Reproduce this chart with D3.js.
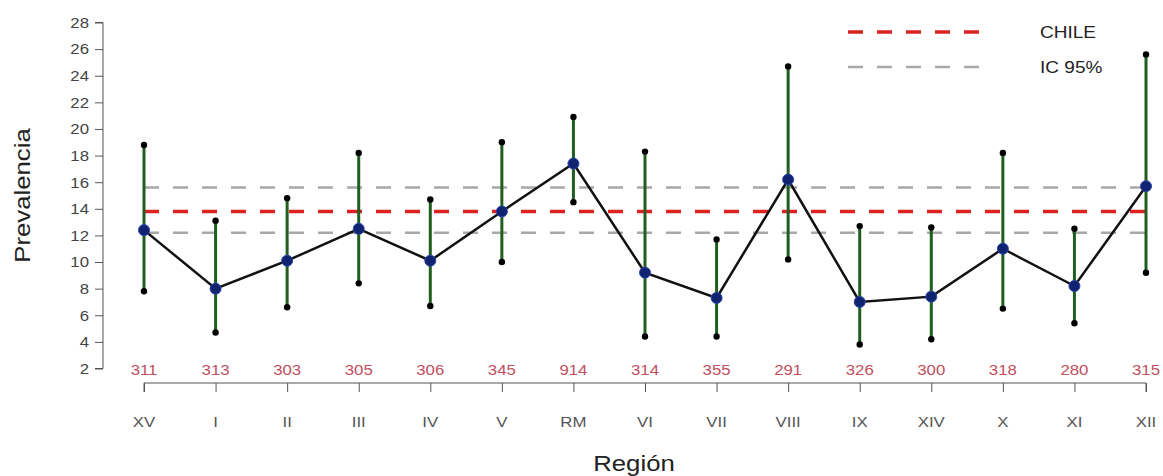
<!DOCTYPE html>
<html>
<head>
<meta charset="utf-8">
<script src="https://cdn.jsdelivr.net/npm/d3@7"></script>
<style>
  html, body { margin: 0; padding: 0; background: #fff; }
  svg { display: block; font-family: "Liberation Sans", Arial, sans-serif; }
</style>
</head>
<body>
<svg id="chart" width="1163" height="476"></svg>
<script>
// ---- data ----
const regions = ["XV","I","II","III","IV","V","RM","VI","VII","VIII","IX","XIV","X","XI","XII"];
const sampleSizes = [311,313,303,305,306,345,914,314,355,291,326,300,318,280,315];
const prevalence = [12.4,8.0,10.1,12.5,10.1,13.8,17.4,9.2,7.3,16.2,7.0,7.4,11.0,8.2,15.7];
const lower = [7.8,4.7,6.6,8.4,6.7,10.0,14.5,4.4,4.4,10.2,3.8,4.2,6.5,5.4,9.2];
const upper = [18.8,13.1,14.8,18.2,14.7,19.0,20.9,18.3,11.7,24.7,12.7,12.6,18.2,12.5,25.6];
const chileValue = [13.8];
const chileCI = [12.2, 15.6];
const yTicks = [2,4,6,8,10,12,14,16,18,20,22,24,26,28];
const legendLabels = ["CHILE","IC 95%"];

// ---- layout ----
const svg = d3.select("#chart");
const sx = 1.12; // horizontal text stretch seen in the reference
const x = d3.scalePoint().domain(regions).range([144, 1146]);
const y = d3.scaleLinear().domain([2, 28]).range([368.5, 22.5]);

function stext(sel, tx, ty) {
  sel.attr("transform", `translate(${tx},${ty}) scale(${sx},1)`);
  return sel;
}

// y axis
const yAxis = svg.append("g").attr("transform", "translate(103,0)")
  .call(d3.axisLeft(y).tickValues(yTicks).tickSize(8).tickPadding(6).tickFormat(d3.format("d")));
yAxis.select(".domain").attr("stroke", "#555").attr("d", `M-8,${y(28)}H0V${y(2)}H-8`);
yAxis.selectAll(".tick line").attr("stroke", "#555");
yAxis.selectAll(".tick text").attr("fill", "#444").attr("font-size", 15)
  .attr("font-family", "Liberation Sans, Arial, sans-serif")
  .each(function() {
    const t = d3.select(this);
    t.attr("transform", `scale(${sx},1)`).attr("x", -14 / sx);
  });

// x axis
const xAxis = svg.append("g").attr("transform", "translate(0,383)")
  .call(d3.axisBottom(x).tickSize(9).tickFormat(""));
xAxis.select(".domain").attr("stroke", "#555").attr("d", `M${x("XV")},9V0H${x("XII")}V9`);
xAxis.selectAll(".tick line").attr("stroke", "#555");

// category labels
regions.forEach((r) => {
  stext(svg.append("text"), x(r), 427)
    .attr("text-anchor", "middle").attr("font-size", 15).attr("fill", "#555").text(r);
});
// sample sizes
regions.forEach((r, i) => {
  stext(svg.append("text"), x(r), 375)
    .attr("text-anchor", "middle").attr("font-size", 15).attr("fill", "#c0505e").text(sampleSizes[i]);
});

// axis titles
svg.append("text").attr("transform", `translate(30,${y(15)}) rotate(-90) scale(${sx},1)`)
  .attr("text-anchor", "middle").attr("font-size", 23).attr("fill", "#222").text("Prevalencia");
stext(svg.append("text"), 634, 471).attr("text-anchor", "middle")
  .attr("font-size", 23).attr("fill", "#222").text("Región");

// reference lines
const x0 = x("XV"), x1 = x("XII");
svg.append("line").attr("x1", x0).attr("x2", x1).attr("y1", y(chileCI[1])).attr("y2", y(chileCI[1]))
  .attr("stroke", "#a8a8a8").attr("stroke-width", 2.5).attr("stroke-dasharray", "15,14");
svg.append("line").attr("x1", x0).attr("x2", x1).attr("y1", y(chileCI[0])).attr("y2", y(chileCI[0]))
  .attr("stroke", "#a8a8a8").attr("stroke-width", 2.5).attr("stroke-dasharray", "15,14");
svg.append("line").attr("x1", x0).attr("x2", x1).attr("y1", y(chileValue[0])).attr("y2", y(chileValue[0]))
  .attr("stroke", "#dd2222").attr("stroke-width", 3.5).attr("stroke-dasharray", "15,14");

// error bars
const g = svg.append("g");
g.selectAll("line.err").data(regions).join("line").attr("class", "err")
  .attr("x1", d => x(d)).attr("x2", d => x(d))
  .attr("y1", (d, i) => y(lower[i])).attr("y2", (d, i) => y(upper[i]))
  .attr("stroke", "#1f5e1f").attr("stroke-width", 3);
g.selectAll("circle.lo").data(regions).join("circle").attr("class", "lo")
  .attr("cx", d => x(d)).attr("cy", (d, i) => y(lower[i])).attr("r", 3.2).attr("fill", "#000");
g.selectAll("circle.hi").data(regions).join("circle").attr("class", "hi")
  .attr("cx", d => x(d)).attr("cy", (d, i) => y(upper[i])).attr("r", 3.2).attr("fill", "#000");

// main line
const line = d3.line().x((d, i) => x(regions[i])).y(d => y(d));
svg.append("path").datum(prevalence).attr("d", line)
  .attr("fill", "none").attr("stroke", "#111").attr("stroke-width", 2.5);

// points
svg.selectAll("circle.pt").data(prevalence).join("circle").attr("class", "pt")
  .attr("cx", (d, i) => x(regions[i])).attr("cy", d => y(d)).attr("r", 5.5)
  .attr("fill", "#0f2370").attr("stroke", "#2a45a8").attr("stroke-width", 1);

// legend
const legY = [32, 67];
svg.append("line").attr("x1", 848).attr("x2", 980).attr("y1", legY[0]).attr("y2", legY[0])
  .attr("stroke", "#dd2222").attr("stroke-width", 3.5).attr("stroke-dasharray", "15,14");
svg.append("line").attr("x1", 848).attr("x2", 980).attr("y1", legY[1]).attr("y2", legY[1])
  .attr("stroke", "#a8a8a8").attr("stroke-width", 2.5).attr("stroke-dasharray", "15,14");
legendLabels.forEach((t, i) => {
  stext(svg.append("text"), 1040, legY[i] + 6).attr("font-size", 17).attr("fill", "#222").text(t);
});
</script>
</body>
</html>
